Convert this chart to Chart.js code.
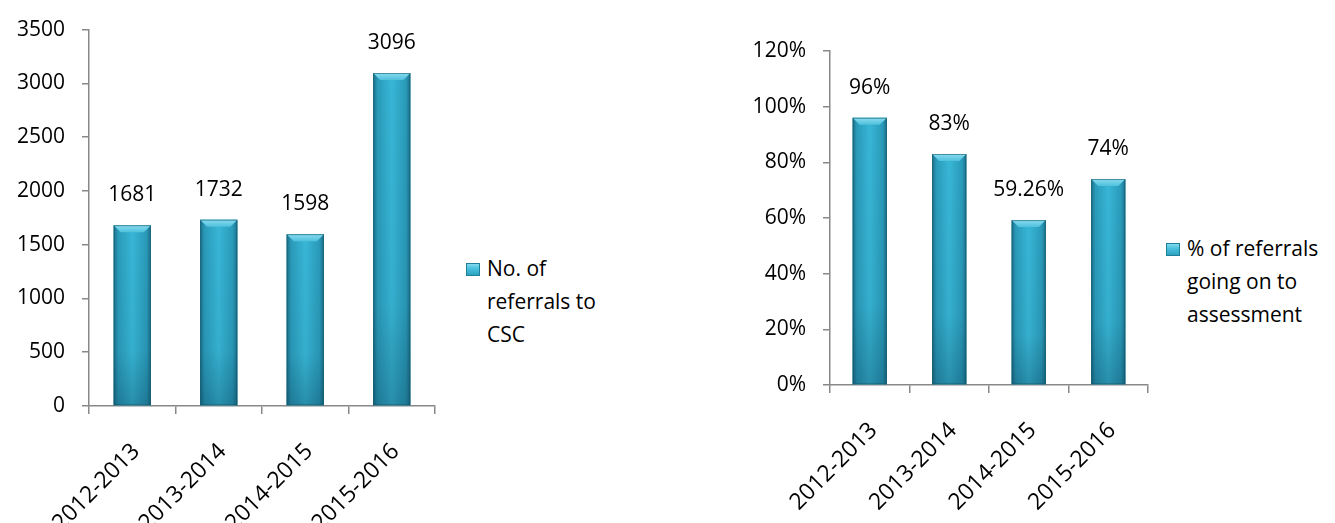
<!DOCTYPE html>
<html lang="en">
<head>
  <meta charset="UTF-8">
  <title>Referrals to CSC</title>
  <script src="https://cdn.jsdelivr.net/npm/chart.js"></script>
  <style>
    body { margin: 0; background: #fff; width: 1335px; height: 523px; overflow: hidden; position: relative; font-family: "Open Sans", sans-serif; }
    canvas { position: absolute; top: 0; }
    #countChart { left: 0; }
    #pctChart { left: 740px; }
    .legend { position: absolute; font-size: 21px; line-height: 33px; color: #000; }
    .legend .swatch { position: absolute; left: -21px; top: 11px; width: 14px; height: 13px;
      background: linear-gradient(180deg, #8fe0f2 0%, #4cc3e0 40%, #2a9dbd 100%); box-shadow: inset 0 0 0 1px #217e98; }
    #countLegend { left: 487px; top: 252px; }
    #pctLegend { left: 1187px; top: 232px; }
  </style>
</head>
<body>
  <canvas id="countChart" width="445" height="523"></canvas>
  <canvas id="pctChart" width="420" height="523"></canvas>
  <div class="legend" id="countLegend"><span class="swatch"></span>No. of<br>referrals to<br>CSC</div>
  <div class="legend" id="pctLegend"><span class="swatch"></span>% of referrals<br>going on to<br>assessment</div>
  <script>
    const categories = ['2012-2013', '2013-2014', '2014-2015', '2015-2016'];
    const referrals = [1681, 1732, 1598, 3096];
    const assessedPct = [96, 83, 59.26, 74];
    const countTicks = [0, 500, 1000, 1500, 2000, 2500, 3000, 3500];
    const pctTicks = [0, 20, 40, 60, 80, 100, 120];

    const font = { family: 'Open Sans', size: 21 };
    const axisGray = '#888888';

    // shading over the plain bars: dark edges, light middle, bevelled top
    const barShade = {
      id: 'barShade',
      afterDatasetsDraw(chart) {
        const c = chart.ctx;
        chart.getDatasetMeta(0).data.forEach(bar => {
          const l = bar.x - bar.width / 2, r = bar.x + bar.width / 2;
          const t = bar.y, b = bar.base, w = bar.width;
          c.save();
          let g = c.createLinearGradient(l, 0, r, 0);
          g.addColorStop(0, '#1b6f88');
          g.addColorStop(0.12, '#2a9ab9');
          g.addColorStop(0.5, '#38b6d6');
          g.addColorStop(0.88, '#2a9ab9');
          g.addColorStop(1, '#1b6f88');
          c.fillStyle = g;
          c.fillRect(l, t, w, b - t);
          g = c.createLinearGradient(0, t, 0, b);
          g.addColorStop(0, 'rgba(0,40,60,0)');
          g.addColorStop(0.7, 'rgba(0,40,60,0.05)');
          g.addColorStop(1, 'rgba(0,40,60,0.28)');
          c.fillStyle = g;
          c.fillRect(l, t, w, b - t);
          const bv = 7;
          g = c.createLinearGradient(0, t, 0, t + bv);
          g.addColorStop(0, '#8adcef');
          g.addColorStop(1, '#4fc0dd');
          c.fillStyle = g;
          c.beginPath();
          c.moveTo(l, t);
          c.lineTo(r, t);
          c.lineTo(r - bv, t + bv);
          c.lineTo(l + bv, t + bv);
          c.closePath();
          c.fill();
          c.strokeStyle = 'rgba(20,90,110,0.6)';
          c.lineWidth = 1;
          c.strokeRect(l + 0.5, t + 0.5, w - 1, b - t - 1);
          c.restore();
        });
      }
    };

    const valueLabels = {
      id: 'valueLabels',
      afterDatasetsDraw(chart, args, opts) {
        const c = chart.ctx;
        const ds = chart.data.datasets[0];
        c.save();
        c.font = '21px "Open Sans"';
        c.fillStyle = '#000';
        c.textAlign = 'center';
        c.textBaseline = 'middle';
        chart.getDatasetMeta(0).data.forEach((bar, i) => {
          c.fillText(ds.data[i] + opts.suffix, bar.x, bar.y - 30);
        });
        c.restore();
      }
    };

    function makeChart(id, values, ticks, suffix, yWidth, xHeight, pad) {
      return new Chart(document.getElementById(id), {
        type: 'bar',
        data: {
          labels: categories,
          datasets: [{
            data: values,
            backgroundColor: '#2fa9c8',
            categoryPercentage: 1,
            barPercentage: 0.43
          }]
        },
        options: {
          responsive: false,
          animation: false,
          devicePixelRatio: 1,
          layout: { padding: pad },
          plugins: {
            legend: { display: false },
            tooltip: { enabled: false },
            valueLabels: { suffix: suffix }
          },
          scales: {
            x: {
              offset: true,
              grid: { offset: true, drawOnChartArea: false, tickLength: 8, color: axisGray, lineWidth: 1.5 },
              border: { color: axisGray, width: 1.5 },
              ticks: { minRotation: 45, maxRotation: 45, autoSkip: false, color: '#000', font: { family: 'Open Sans', size: 23 }, padding: 24, labelOffset: 4 },
              afterFit: s => { s.height = xHeight; }
            },
            y: {
              min: ticks[0],
              max: ticks[ticks.length - 1],
              afterBuildTicks: s => { s.ticks = ticks.map(v => ({ value: v })); },
              grid: { drawOnChartArea: false, tickLength: 7, color: axisGray, lineWidth: 1.5 },
              border: { color: axisGray, width: 1.5 },
              ticks: { color: '#000', font: font, padding: 17, callback: v => v + suffix },
              afterFit: s => { s.width = yWidth; }
            }
          }
        },
        plugins: [barShade, valueLabels]
      });
    }

    makeChart('countChart', referrals, countTicks, '', 89, 117, { top: 29, right: 10, left: 0, bottom: 0 });
    makeChart('pctChart', assessedPct, pctTicks, '%', 90, 138, { top: 51, right: 12, left: 0, bottom: 0 });
  </script>
</body>
</html>
